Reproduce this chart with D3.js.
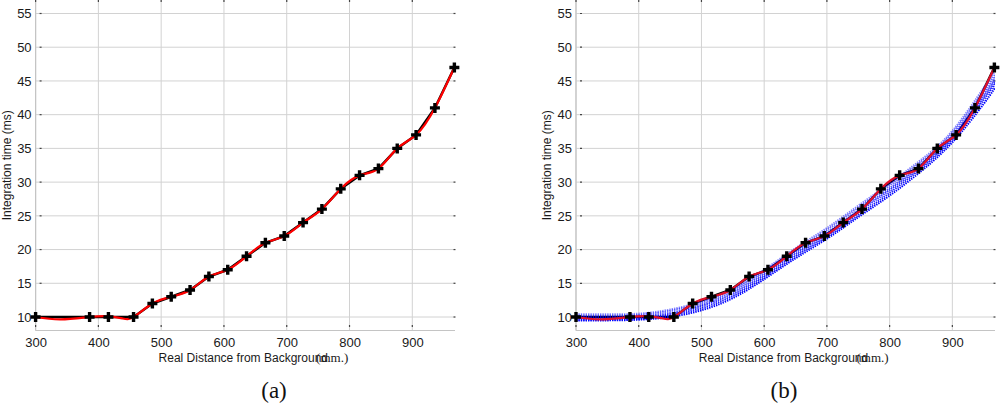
<!DOCTYPE html>
<html>
<head>
<meta charset="utf-8">
<script src="https://cdn.jsdelivr.net/npm/d3@7"></script>
<style>
  body { margin: 0; background: #fff; }
  svg { display: block; }
  .tick text { font-family: "Liberation Sans", Arial, sans-serif; font-size: 13px; fill: #1a1a1a; }
</style>
</head>
<body>
<script>
const width = 1000;
const height = 406;

// measured points (black line + markers)
const distX = [300, 386, 416, 456, 486, 516, 546, 576, 606, 636, 666, 696, 726, 756, 786, 816, 846, 876, 906, 936, 967];
const timeY = [10, 10, 10, 10, 12, 13, 14, 16, 17, 19, 21, 22, 24, 26, 29, 31, 32, 35, 37, 41, 47];

// red smoothed curve
const redX = [300, 340, 386, 416, 438, 456, 486, 516, 546, 576, 606, 636, 666, 696, 726, 756, 786, 816, 846, 876, 906, 936, 967];
const redY = [10, 9.65, 10, 10.1, 9.8, 10, 12, 13, 14, 16, 17, 19, 21, 22, 24, 26, 29, 31, 32, 35, 37, 41, 47];

// blue dotted fit curves of panel (b)
const blueX = [300, 350, 400, 450, 500, 550, 600, 650, 700, 750, 800, 850, 900, 950, 975];
const blue1 = [9.5, 9.5, 9.6, 10.0, 11.0, 12.8, 15.6, 18.7, 21.6, 24.8, 28.0, 31.6, 35.9, 41.6, 45.0];
const blue2 = [9.6, 9.6, 9.7, 10.2, 11.3, 13.1, 15.9, 19.0, 21.9, 25.1, 28.4, 32.0, 36.3, 42.2, 45.6];
const blue3 = [9.8, 9.8, 9.9, 10.4, 11.6, 13.4, 16.2, 19.3, 22.2, 25.5, 28.8, 32.3, 36.6, 42.6, 46.0];
const blue4 = [10.0, 10.0, 10.1, 10.6, 11.8, 13.7, 16.5, 19.6, 22.5, 25.8, 29.1, 32.6, 36.9, 43.0, 46.4];
const blue5 = [10.2, 10.2, 10.3, 10.9, 12.1, 14.0, 16.8, 19.9, 22.9, 26.2, 29.5, 33.0, 37.3, 43.5, 46.9];
const blue6 = [10.4, 10.4, 10.5, 11.1, 12.3, 14.2, 17.0, 20.2, 23.2, 26.5, 29.8, 33.3, 37.6, 44.0, 47.4];
const blueSeries = [blue1, blue2, blue3, blue4, blue5, blue6];

const xTicks = [300, 400, 500, 600, 700, 800, 900];
const yTicks = [10, 15, 20, 25, 30, 35, 40, 45, 50, 55];

const panels = [
  { left: 35.6, right: 455, tag: '(a)', tagX: 274, blue: false },
  { left: 576, right: 995, tag: '(b)', tagX: 784, blue: true }
];

const plotTop = 0, plotBottom = 330.5;

const svg = d3.select('body').append('svg').attr('width', width).attr('height', height);

const y = d3.scaleLinear().domain([8, 57]).range([plotBottom, plotTop]);

panels.forEach((p, pi) => {
  const x = d3.scaleLinear().domain([300, 968]).range([p.left, p.right]);
  const g = svg.append('g');

  const clipId = 'clip' + pi;
  svg.append('clipPath').attr('id', clipId)
    .append('rect').attr('x', p.left).attr('y', plotTop).attr('width', p.right - p.left).attr('height', plotBottom - plotTop);

  // grid
  g.selectAll('.vgrid').data(xTicks).enter().append('line')
    .attr('x1', d => x(d)).attr('x2', d => x(d)).attr('y1', plotTop).attr('y2', plotBottom)
    .attr('stroke', '#d2d2d2').attr('stroke-width', 1);
  g.selectAll('.hgrid').data(yTicks).enter().append('line')
    .attr('x1', p.left).attr('x2', p.right).attr('y1', d => y(d)).attr('y2', d => y(d))
    .attr('stroke', '#d2d2d2').attr('stroke-width', 1);

  // axis lines
  g.append('line').attr('x1', p.left).attr('x2', p.left).attr('y1', plotTop).attr('y2', plotBottom)
    .attr('stroke', '#c4c4c4').attr('stroke-width', 1.2);
  g.append('line').attr('x1', p.left).attr('x2', p.right).attr('y1', plotBottom).attr('y2', plotBottom)
    .attr('stroke', '#c4c4c4').attr('stroke-width', 1.2);

  // little inward tick marks
  g.selectAll('.ytk').data(yTicks).enter().append('line')
    .attr('x1', p.left + 4).attr('x2', p.left + 6).attr('y1', d => y(d)).attr('y2', d => y(d))
    .attr('stroke', '#444').attr('stroke-width', 1.2);
  g.selectAll('.ytk2').data(yTicks).enter().append('line')
    .attr('x1', p.right - 1.5).attr('x2', p.right + 0.5).attr('y1', d => y(d)).attr('y2', d => y(d))
    .attr('stroke', '#444').attr('stroke-width', 1.2);
  g.selectAll('.xtk').data(xTicks).enter().append('line')
    .attr('x1', d => x(d)).attr('x2', d => x(d)).attr('y1', plotBottom - 5.5).attr('y2', plotBottom - 3.5)
    .attr('stroke', '#444').attr('stroke-width', 1.2);
  g.selectAll('.xtk2').data(xTicks).enter().append('line')
    .attr('x1', d => x(d)).attr('x2', d => x(d)).attr('y1', plotTop).attr('y2', plotTop + 2)
    .attr('stroke', '#444').attr('stroke-width', 1.2);

  // tick labels
  g.append('g').attr('transform', `translate(0,${plotBottom})`)
    .call(d3.axisBottom(x).tickValues(xTicks).tickSize(0).tickPadding(7).tickFormat(d3.format('d')))
    .call(a => a.select('.domain').remove());
  g.append('g').attr('transform', `translate(${p.left},0)`)
    .call(d3.axisLeft(y).tickValues(yTicks).tickSize(0).tickPadding(4).tickFormat(d3.format('d')))
    .call(a => a.select('.domain').remove());

  // axis titles
  const mid = (p.left + p.right) / 2;
  g.append('text').attr('x', mid - 2).attr('y', 362).attr('text-anchor', 'middle')
    .attr('font-family', '"Liberation Sans", Arial, sans-serif').attr('font-size', 12).attr('fill', '#1a1a1a')
    .text('Real Distance from Background');
  g.append('text').attr('x', p.left + 280.5).attr('y', 362)
    .attr('font-family', '"Liberation Serif", "Times New Roman", serif').attr('font-size', 13).attr('fill', '#1a1a1a')
    .text('(mm.)');
  g.append('text')
    .attr('transform', `translate(${p.left - 25},${(plotTop + plotBottom) / 2}) rotate(-90)`)
    .attr('text-anchor', 'middle')
    .attr('font-family', '"Liberation Sans", Arial, sans-serif').attr('font-size', 12).attr('fill', '#1a1a1a')
    .text('Integration time (ms)');

  // panel tag
  svg.append('text').attr('x', p.tagX).attr('y', 398).attr('text-anchor', 'middle')
    .attr('font-family', '"Liberation Serif", "Times New Roman", serif').attr('font-size', 23).attr('fill', '#111')
    .text(p.tag);

  const plot = g.append('g').attr('clip-path', `url(#${clipId})`);
  const pts = distX.map((d, i) => [d, timeY[i]]);

  // black measured line
  plot.append('path').datum(pts)
    .attr('d', d3.line().x(d => x(d[0])).y(d => y(d[1])))
    .attr('fill', 'none').attr('stroke', '#000').attr('stroke-width', 2.5);

  // plus markers
  g.selectAll('.mk').data(pts).enter().append('path')
    .attr('transform', d => `translate(${x(d[0])},${y(d[1])})`)
    .attr('d', 'M-5,0H5M0,-5V5')
    .attr('stroke', '#000').attr('stroke-width', 3.4).attr('fill', 'none');

  // blue fits
  if (p.blue) {
    const blueLine = d3.line().curve(d3.curveNatural).x(d => x(d[0])).y(d => y(d[1]));
    blueSeries.forEach((s, si) => {
      plot.append('path').datum(blueX.map((d, i) => [d, s[i]]))
        .attr('d', blueLine)
        .attr('fill', 'none').attr('stroke', '#0000ff')
        .attr('stroke-opacity', 1 - si * 0.1)
        .attr('stroke-width', 2).attr('stroke-dasharray', '1.4,1');
    });
  }

  // red smoothed curve
  const redLine = d3.line().curve(d3.curveNatural).x(d => x(d[0])).y(d => y(d[1]));
  plot.append('path').datum(redX.map((d, i) => [d, redY[i]]))
    .attr('d', redLine)
    .attr('fill', 'none').attr('stroke', p.blue ? '#e0102a' : '#ff0000').attr('stroke-width', 2.2);
});
</script>
</body>
</html>
